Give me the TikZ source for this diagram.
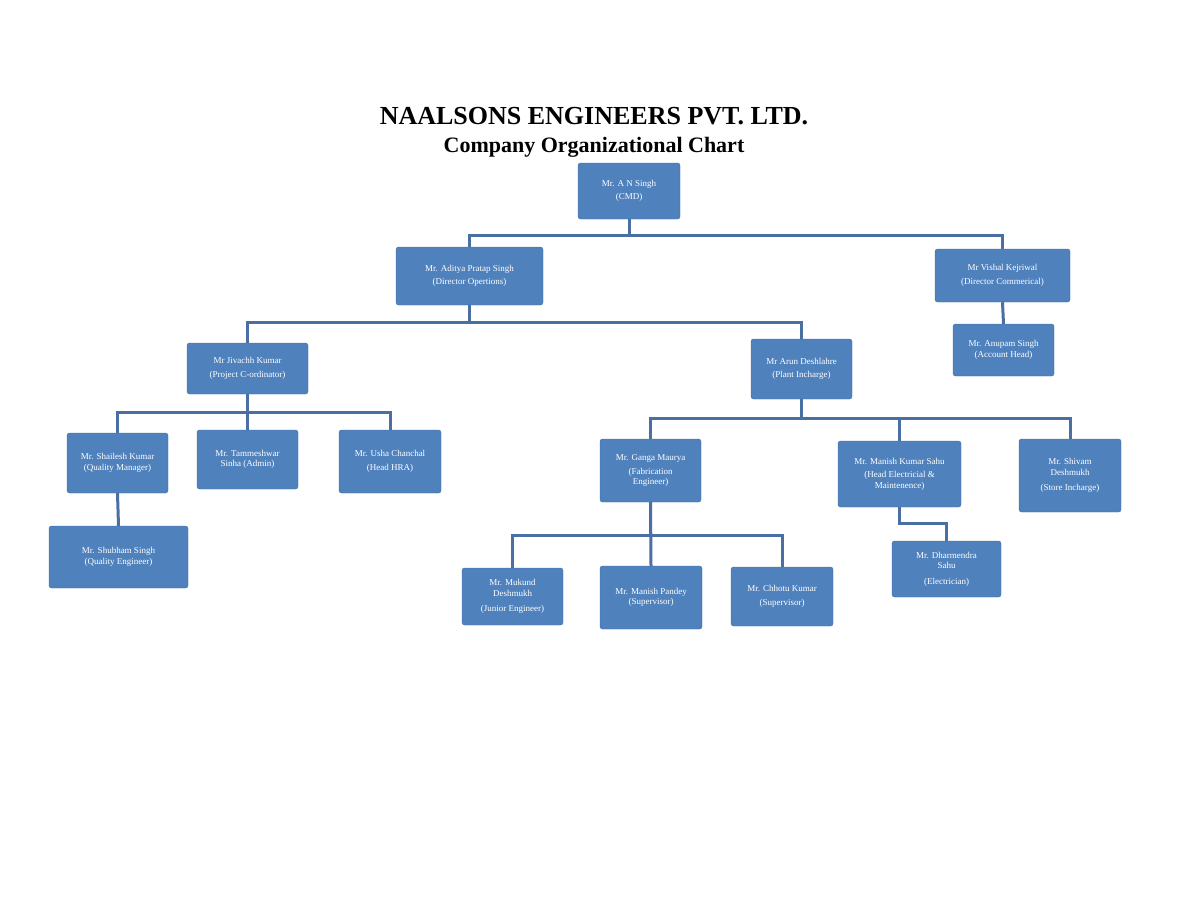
\documentclass[tikz,border=0pt]{standalone}
\usepackage{fontspec}
\setmainfont{Liberation Serif}
\definecolor{boxblue}{HTML}{4F81BD}
\definecolor{lineblue}{HTML}{4A6FA3}
\begin{document}
\begin{tikzpicture}[x=1pt,y=-1pt,
	person/.style={fill=boxblue, draw=boxblue!85!black, line width=0.4pt, rounded corners=2.5pt, text=white, font=\fontsize{9}{10.5}\selectfont, align=center, inner sep=1pt},
	link/.style={draw=lineblue, line width=3pt}]
	\useasboundingbox (0,0) rectangle (1188,918);
	\node[font=\bfseries\fontsize{26}{28}\selectfont] (title) at (594,116) {NAALSONS ENGINEERS PVT. LTD.};
	\node[font=\bfseries\fontsize{22}{24}\selectfont] (subtitle) at (594,147) {Company Organizational Chart};
	% level 1
	\node[person, minimum width=102pt, minimum height=56pt] (cmd) at (629,191) {Mr. A N Singh\\[3pt](CMD)};
	% level 2
	\node[person, minimum width=147pt, minimum height=58pt] (aditya) at (469.5,276) {Mr. Aditya Pratap Singh\\[3pt](Director Opertions)};
	\node[person, minimum width=135pt, minimum height=53pt] (vishal) at (1002.5,275.5) {Mr Vishal Kejriwal\\[3pt](Director Commerical)};
	\node[person, minimum width=101pt, minimum height=52pt] (anupam) at (1003.5,350) {Mr. Anupam Singh\\(Account Head)};
	% level 3
	\node[person, minimum width=121pt, minimum height=51pt] (jivachh) at (247.5,368.5) {Mr Jivachh Kumar\\[3pt](Project C-ordinator)};
	\node[person, minimum width=101pt, minimum height=60pt] (arun) at (801.5,369) {Mr Arun Deshlahre\\[3pt](Plant Incharge)};
	% level 4 left
	\node[person, minimum width=101pt, minimum height=60pt] (shailesh) at (117.5,463) {Mr. Shailesh Kumar\\(Quality Manager)};
	\node[person, minimum width=101pt, minimum height=59pt] (tammeshwar) at (247.5,459.5) {Mr. Tammeshwar\\Sinha (Admin)};
	\node[person, minimum width=102pt, minimum height=63pt] (usha) at (390,461.5) {Mr. Usha Chanchal\\[3pt](Head HRA)};
	\node[person, minimum width=139pt, minimum height=62pt] (shubham) at (118.5,557) {Mr. Shubham Singh\\(Quality Engineer)};
	% level 4 right
	\node[person, minimum width=101pt, minimum height=63pt] (ganga) at (650.5,470.5) {Mr. Ganga Maurya\\[3pt](Fabrication\\Engineer)};
	\node[person, minimum width=123pt, minimum height=66pt] (manishk) at (899.5,474) {Mr. Manish Kumar Sahu\\[3pt](Head Electricial \&\\Maintenence)};
	\node[person, minimum width=102pt, minimum height=73pt] (shivam) at (1070,475.5) {Mr. Shivam\\Deshmukh\\[5pt](Store Incharge)};
	\node[person, minimum width=109pt, minimum height=56pt] (dharmendra) at (946.5,569) {Mr. Dharmendra\\Sahu\\[5pt](Electrician)};
	% level 5
	\node[person, minimum width=101pt, minimum height=57pt] (mukund) at (512.5,596.5) {Mr. Mukund\\Deshmukh\\[5pt](Junior Engineer)};
	\node[person, minimum width=102pt, minimum height=63pt] (manishp) at (651,597.5) {Mr. Manish Pandey\\(Supervisor)};
	\node[person, minimum width=102pt, minimum height=59pt] (chhotu) at (782,596.5) {Mr. Chhotu Kumar\\[3pt](Supervisor)};
	% connectors
	\draw[link] (cmd.south) -- ++(0,16) -| (aditya.north);
	\draw[link] (cmd.south) ++(0,16) -| (vishal.north);
	\draw[link] (vishal.south) -- (anupam.north);
	\draw[link] (aditya.south) -- ++(0,17) -| (jivachh.north);
	\draw[link] (aditya.south) ++(0,17) -| (arun.north);
	\draw[link] (jivachh.south) -- ++(0,18) -| (shailesh.north);
	\draw[link] (jivachh.south) ++(0,18) -| (usha.north);
	\draw[link] (jivachh.south) -- (tammeshwar.north);
	\draw[link] (shailesh.south) -- (shubham.north);
	\draw[link] (arun.south) -- ++(0,19) -| (ganga.north);
	\draw[link] (arun.south) ++(0,19) -| (shivam.north);
	\draw[link] (arun.south) ++(0,19) -| (manishk.north);
	\draw[link] (ganga.south) -- ++(0,33) -| (mukund.north);
	\draw[link] (ganga.south) ++(0,33) -| (chhotu.north);
	\draw[link] (ganga.south) -- (manishp.north);
	\draw[link] (manishk.south) -- ++(0,16) -| (dharmendra.north);
\end{tikzpicture}
\end{document}
